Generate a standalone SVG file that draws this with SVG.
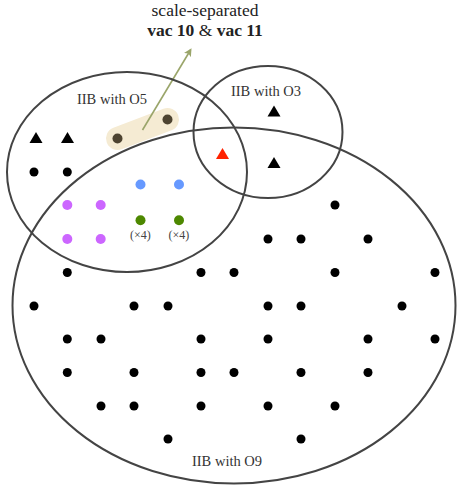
<svg xmlns="http://www.w3.org/2000/svg" width="464" height="493" viewBox="0 0 464 493">
<defs>
<style>
.ell{fill:none;stroke:#444;stroke-width:2}
.lbl{font-family:"Liberation Serif","DejaVu Serif",serif;font-size:14.5px;fill:#333;text-anchor:middle}
.ttl{font-family:"Liberation Serif","DejaVu Serif",serif;font-size:17.5px;fill:#222;text-anchor:middle}
.small{font-family:"Liberation Serif","DejaVu Serif",serif;font-size:12px;fill:#444;text-anchor:middle}
.d{fill:#000}
.b{fill:#6699ff}
.p{fill:#cc66ff}
.g{fill:#4d8800}
</style>
<marker id="ah" markerWidth="8" markerHeight="8" refX="6" refY="4" orient="auto" markerUnits="userSpaceOnUse">
<path d="M0,0 L8,4 L0,8 L2,4 Z" fill="#9aa56a"/>
</marker>
</defs>
<rect width="464" height="493" fill="#fff"/>
<g id="highlight">
<line x1="117.5" y1="138.5" x2="167.5" y2="119.5" stroke="#f5ebd3" stroke-width="23" stroke-linecap="round"/>
<circle cx="117.5" cy="138.5" r="5" fill="#4d4330"/>
<circle cx="167.5" cy="119.5" r="5" fill="#4d4330"/>
</g>
<g id="connectors">
<line x1="142.5" y1="130" x2="190.5" y2="50" stroke="#9aa56a" stroke-width="1.6" marker-end="url(#ah)"/>
</g>
<g id="title">
<text class="ttl" x="205" y="16">scale-separated</text>
<text class="ttl" x="205" y="36"><tspan font-weight="bold">vac 10</tspan> &amp; <tspan font-weight="bold">vac 11</tspan></text>
</g>
<g id="O5">
<ellipse class="ell" cx="127" cy="172" rx="120" ry="100"/>
<text class="lbl" x="112" y="104">IIB with O5</text>
</g>
<g id="O3">
<ellipse class="ell" cx="268" cy="132" rx="74.5" ry="66"/>
<text class="lbl" x="266" y="96">IIB with O3</text>
</g>
<g id="O9">
<ellipse class="ell" cx="234" cy="305.5" rx="221.5" ry="178"/>
<text class="lbl" x="227" y="466">IIB with O9</text>
</g>
<g id="triangles">
<polygon points="36,132 42.5,143 29.5,143" fill="#000"/>
<polygon points="67.5,132 74,143 61,143" fill="#000"/>
<polygon points="274,105.5 280.5,116.5 267.5,116.5" fill="#000"/>
<polygon points="274,157 280.5,168 267.5,168" fill="#000"/>
<polygon points="222.5,148 229,159 216,159" fill="#ff2200"/>
</g>
<g id="colored">
<circle class="b" cx="140.5" cy="184.5" r="5"/>
<circle class="b" cx="179" cy="184.5" r="5"/>
<circle class="p" cx="67.3" cy="205" r="5"/>
<circle class="p" cx="100.7" cy="205" r="5"/>
<circle class="p" cx="67.3" cy="239" r="5"/>
<circle class="p" cx="100.7" cy="239" r="5"/>
<circle class="g" cx="140.5" cy="220.3" r="5"/>
<circle class="g" cx="179" cy="220.3" r="5"/>
<text class="small" x="140.5" y="238.5">(×4)</text>
<text class="small" x="179" y="238.5">(×4)</text>
</g>
<g id="dots">
<circle class="d" cx="34" cy="172" r="4.5"/><circle class="d" cx="67.3" cy="172" r="4.5"/>
<circle class="d" cx="335" cy="205" r="4.5"/>
<circle class="d" cx="268" cy="239" r="4.5"/><circle class="d" cx="301" cy="239" r="4.5"/><circle class="d" cx="368" cy="239" r="4.5"/>
<circle class="d" cx="67.3" cy="272.5" r="4.5"/><circle class="d" cx="201" cy="272.5" r="4.5"/><circle class="d" cx="234" cy="272.5" r="4.5"/><circle class="d" cx="335" cy="272.5" r="4.5"/><circle class="d" cx="435" cy="272.5" r="4.5"/>
<circle class="d" cx="34" cy="306" r="4.5"/><circle class="d" cx="134" cy="306" r="4.5"/><circle class="d" cx="168" cy="306" r="4.5"/><circle class="d" cx="268" cy="306" r="4.5"/><circle class="d" cx="301" cy="306" r="4.5"/><circle class="d" cx="402" cy="306" r="4.5"/>
<circle class="d" cx="67.3" cy="339" r="4.5"/><circle class="d" cx="101" cy="339" r="4.5"/><circle class="d" cx="201" cy="339" r="4.5"/><circle class="d" cx="268" cy="339" r="4.5"/><circle class="d" cx="368" cy="339" r="4.5"/><circle class="d" cx="435" cy="339" r="4.5"/>
<circle class="d" cx="67.3" cy="372.5" r="4.5"/><circle class="d" cx="134" cy="372.5" r="4.5"/><circle class="d" cx="201" cy="372.5" r="4.5"/><circle class="d" cx="234" cy="372.5" r="4.5"/><circle class="d" cx="301" cy="372.5" r="4.5"/><circle class="d" cx="368" cy="372.5" r="4.5"/>
<circle class="d" cx="101" cy="406" r="4.5"/><circle class="d" cx="134" cy="406" r="4.5"/><circle class="d" cx="201" cy="406" r="4.5"/><circle class="d" cx="268" cy="406" r="4.5"/><circle class="d" cx="335" cy="406" r="4.5"/>
<circle class="d" cx="168" cy="439" r="4.5"/><circle class="d" cx="301" cy="439" r="4.5"/>
</g>
</svg>
